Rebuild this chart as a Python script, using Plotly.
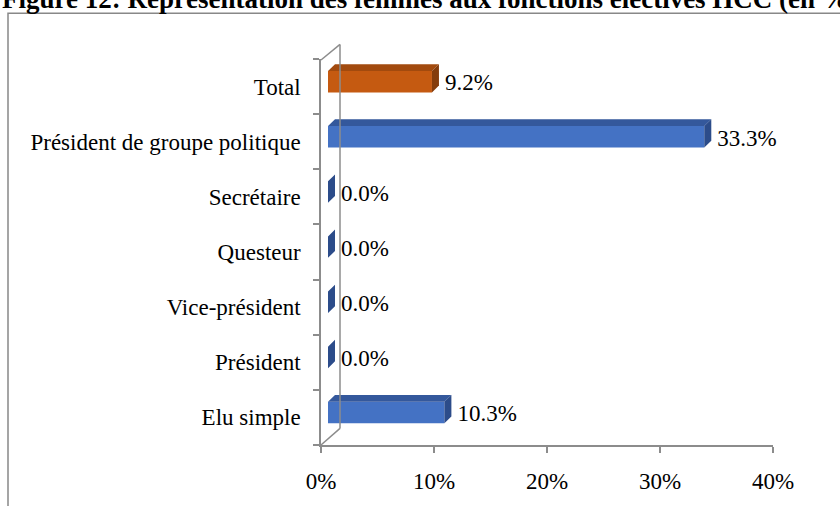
import plotly.graph_objects as go

# ---- data ----
categories = ["Elu simple", "Président", "Vice-président", "Questeur",
              "Secrétaire", "Président de groupe politique", "Total"]
values_pct = [10.3, 0.0, 0.0, 0.0, 0.0, 33.3, 9.2]
bar_kind = ["blue", "blue", "blue", "blue", "blue", "blue", "orange"]
x_tick_vals = [0, 0.1, 0.2, 0.3, 0.4]
x_tick_text = ["0%", "10%", "20%", "30%", "40%"]
title_text = "Figure 12: Représentation des femmes aux fonctions électives HCC (en %)"

# ---- styling / geometry ----
W, H = 840, 506
L, R, T, B = 321, 67, 59, 51
plot_w = W - L - R
plot_h = H - T - B
XMAX = 0.4
ymin, ymax = -0.5, 6.5
ux = XMAX / plot_w              # data units per pixel (x)
uy = (ymax - ymin) / plot_h     # data units per pixel (y)

FONT = "Liberation Serif, Times New Roman, serif"
FS = 23
AX = "#8c8c8c"
colors = {
    "blue": dict(front="#4472C4", top="#34589C", side="#2C4C8A"),
    "orange": dict(front="#C55A11", top="#A24A0E", side="#843C0C"),
}

x0 = 7 * ux          # 3D depth offset of bars
dxd = 7 * ux         # depth x
dyd = 7 * uy         # depth y
bh = 22 * uy         # bar thickness
shift = 5 * uy       # bars sit slightly above category centre

vals = [v / 100 for v in values_pct]
ypos = list(range(len(categories)))

fig = go.Figure()

for kind in ["blue", "orange"]:
    idx = [i for i in ypos if bar_kind[i] == kind]
    c = colors[kind]
    fig.add_trace(go.Bar(
        orientation="h",
        y=[i + shift for i in idx],
        x=[vals[i] for i in idx],
        base=x0,
        width=bh,
        marker=dict(color=c["front"], line=dict(width=0)),
        showlegend=False, hoverinfo="skip",
    ))
    tx, ty, sx, sy = [], [], [], []
    for i in idx:
        v = vals[i]
        yc = i + shift
        yt, yb = yc + bh / 2, yc - bh / 2
        xa, xb = x0, x0 + v
        tx += [xa, xa + dxd, xb + dxd, xb, xa, None]
        ty += [yt, yt + dyd, yt + dyd, yt, yt, None]
        sx += [xb, xb, xb + dxd, xb + dxd, xb, None]
        sy += [yb, yt, yt + dyd, yb + dyd, yb, None]
    fig.add_trace(go.Scatter(x=tx, y=ty, mode="lines", fill="toself",
                             fillcolor=c["top"], line=dict(width=0, color=c["top"]),
                             showlegend=False, hoverinfo="skip"))
    fig.add_trace(go.Scatter(x=sx, y=sy, mode="lines", fill="toself",
                             fillcolor=c["side"], line=dict(width=0, color=c["side"]),
                             showlegend=False, hoverinfo="skip"))

# value labels
fig.add_trace(go.Scatter(
    x=[x0 + v + dxd + 6 * ux for v in vals],
    y=[i + 2 * uy for i in ypos],
    mode="text",
    text=[f"{v:.1f}%" for v in values_pct],
    textposition="middle right",
    textfont=dict(family=FONT, size=FS, color="black"),
    cliponaxis=False,
    showlegend=False, hoverinfo="skip",
))

def px(x):
    return (x - L) / plot_w

def py(y):
    return (H - B - y) / plot_h

shapes = []
def seg(xa, ya, xb, yb, color=AX, w=1.5):
    shapes.append(dict(type="line", xref="paper", yref="paper",
                       x0=px(xa), y0=py(ya), x1=px(xb), y1=py(yb),
                       line=dict(color=color, width=w)))

# 3D wall lines
seg(340, 438, 340, 44)
seg(321, 60, 340, 44)
seg(321, 455, 340, 438)
# outer chart border
shapes.append(dict(type="rect", xref="paper", yref="paper",
                   x0=px(8), y0=py(12), x1=px(860), y1=py(530),
                   line=dict(color="#888888", width=1.5), layer="below"))

fig.update_layout(
    width=W, height=H,
    margin=dict(l=L, r=R, t=T, b=B, pad=0),
    paper_bgcolor="white", plot_bgcolor="white",
    barmode="overlay",
    shapes=shapes,
    xaxis=dict(range=[0, XMAX], tickvals=x_tick_vals, ticktext=x_tick_text,
               showgrid=False, zeroline=False, showline=True, linecolor=AX,
               linewidth=1.5, ticks="outside", ticklen=6, tickcolor=AX, tickwidth=1.5,
               tickfont=dict(family=FONT, size=FS, color="black"), ticklabelstandoff=9),
    yaxis=dict(range=[ymin, ymax], tickvals=ypos, ticktext=categories,
               showgrid=False, zeroline=False, showline=True, linecolor=AX,
               linewidth=1.5, ticks="", ticklabelstandoff=14,
               tickfont=dict(family=FONT, size=FS, color="black"),
               minor=dict(tickvals=[i - 0.5 for i in range(len(categories) + 1)],
                          ticks="outside", ticklen=6, tickcolor=AX, tickwidth=1.5)),
    annotations=[dict(text="<b>" + title_text + "</b>", xref="paper", yref="paper",
                      x=px(1), y=py(14), xanchor="left", yanchor="bottom",
                      showarrow=False, borderpad=0,
                      font=dict(family=FONT, size=27, color="black"))],
)

fig.write_html("out.html",
               config={"displayModeBar": False},
               post_script="document.body.style.margin='0';"
                           "document.body.style.overflow='hidden';")
